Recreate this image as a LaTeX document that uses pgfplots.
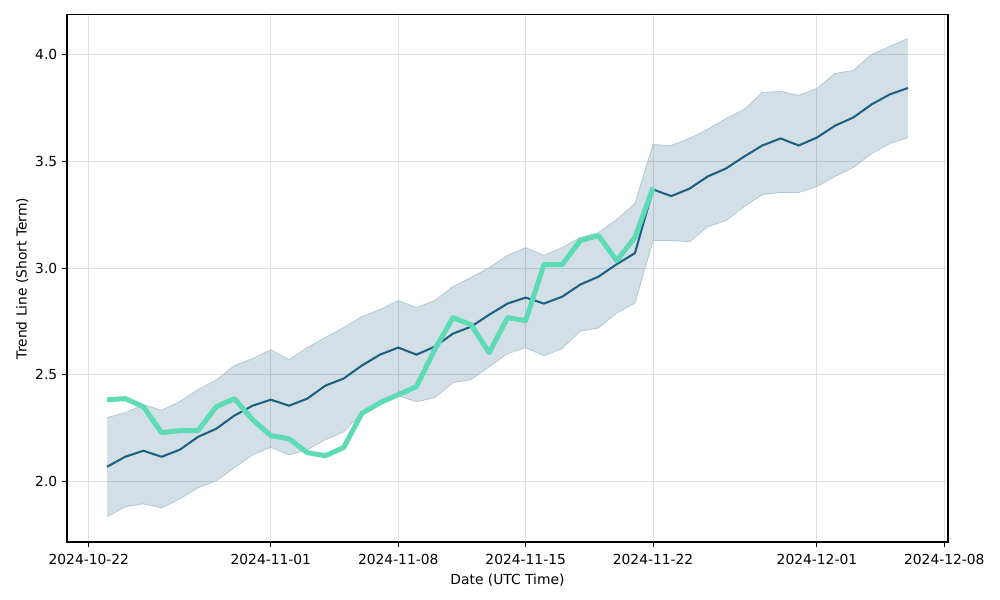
\documentclass[border=0pt]{standalone}
\usepackage{fontspec}
\setmainfont{DejaVu Sans}
\usepackage{pgfplots}
\usepackage{pgfplotstable}
\pgfplotsset{compat=1.18}
\usepgfplotslibrary{fillbetween}
\usetikzlibrary{calc}

\definecolor{meanc}{HTML}{1F5F80}
\definecolor{greenc}{HTML}{5CDBB4}
\definecolor{edgec}{HTML}{B4C8D4}

% day index: 0 = 2024-10-22
\pgfplotstableread{
d mean lo hi
1 2.070 1.836 2.300
2 2.117 1.883 2.323
3 2.145 1.897 2.360
4 2.117 1.878 2.335
5 2.150 1.920 2.375
6 2.210 1.972 2.431
7 2.248 2.005 2.476
8 2.310 2.066 2.544
9 2.356 2.126 2.576
10 2.384 2.162 2.618
11 2.356 2.126 2.571
12 2.389 2.150 2.628
13 2.450 2.197 2.675
14 2.483 2.234 2.721
15 2.544 2.323 2.773
16 2.595 2.370 2.806
17 2.628 2.403 2.848
18 2.595 2.375 2.815
19 2.632 2.393 2.848
20 2.693 2.464 2.913
21 2.726 2.478 2.956
22 2.782 2.539 3.002
23 2.834 2.600 3.059
24 2.862 2.628 3.096
25 2.834 2.590 3.059
26 2.866 2.623 3.096
27 2.923 2.705 3.143
28 2.960 2.720 3.166
29 3.018 2.790 3.227
30 3.070 2.836 3.302
31 3.368 3.129 3.578
32 3.337 3.129 3.574
33 3.372 3.124 3.607
34 3.429 3.194 3.649
35 3.466 3.222 3.700
36 3.522 3.288 3.742
37 3.574 3.344 3.822
38 3.607 3.354 3.827
39 3.574 3.354 3.808
40 3.611 3.382 3.841
41 3.667 3.429 3.911
42 3.705 3.471 3.925
43 3.766 3.536 4.000
44 3.813 3.583 4.037
45 3.843 3.611 4.075
}\trend

\pgfplotstableread{
d price
1 2.384
2 2.389
3 2.351
4 2.230
5 2.239
6 2.239
7 2.351
8 2.389
9 2.290
10 2.216
11 2.201
12 2.136
13 2.122
14 2.160
15 2.320
16 2.370
17 2.408
18 2.445
19 2.618
20 2.768
21 2.735
22 2.604
23 2.768
24 2.754
25 3.016
26 3.016
27 3.129
28 3.152
29 3.035
30 3.143
31 3.377
}\price

\begin{document}
\begin{tikzpicture}
\begin{axis}[
  name=main,
  scale only axis,
  width=636.7pt, height=380.9pt,
  xmin=-1.2, xmax=47.2,
  ymin=1.718, ymax=4.185,
  xtick={0,10,17,24,31,40,47},
  xticklabels={2024-10-22,2024-11-01,2024-11-08,2024-11-15,2024-11-22,2024-12-01,2024-12-08},
  ytick={2,2.5,3,3.5,4},
  yticklabel style={/pgf/number format/fixed,/pgf/number format/fixed zerofill,/pgf/number format/precision=1},
  xticklabel style={yshift=-1.5pt},
  /pgf/number format/assume math mode=true,
  grid=major,
  major grid style={black!12, line width=0.8pt},
  axis line style={line width=0.8pt},
  tick align=outside,
  tick pos=left,
  major tick length=3.5pt,
  every tick/.style={black, line width=0.8pt},
  xlabel={Date (UTC Time)},
  ylabel={Trend Line (Short Term)},
  xlabel style={yshift=-0.5pt},
  ylabel style={yshift=-2pt},
]
\addplot[name path=up, edgec, line width=0.6pt] table[x=d, y=hi] {\trend};
\addplot[name path=dn, edgec, line width=0.6pt] table[x=d, y=lo] {\trend};
\addplot[meanc, fill opacity=0.2, draw=none] fill between[of=up and dn];
\addplot[meanc, line width=1.5pt] table[x=d, y=mean] {\trend};
\addplot[greenc, line width=3.6pt, line join=round] table[x=d, y=price] {\price};
\end{axis}
\pgfresetboundingbox
\path ($(main.south west)+(-48.4pt,-41.9pt)$) rectangle ($(main.north east)+(37.6pt,10.8pt)$);
\end{tikzpicture}
\end{document}
